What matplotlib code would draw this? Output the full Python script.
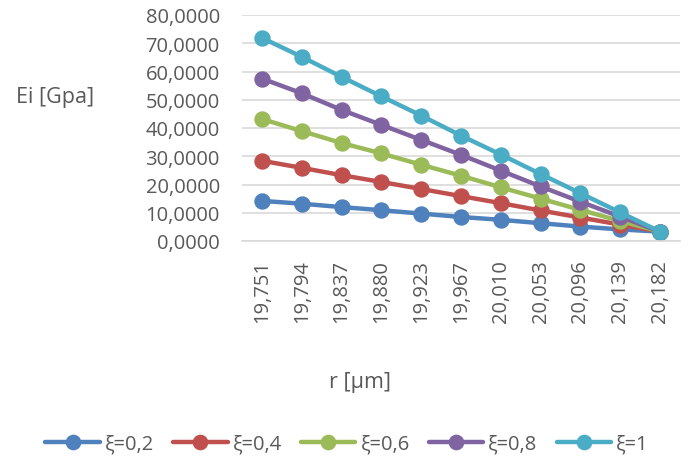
import matplotlib
matplotlib.use("Agg")
import matplotlib.pyplot as plt

plt.rcParams['font.family'] = ['Open Sans', 'DejaVu Sans']

r_labels = ["19,751", "19,794", "19,837", "19,880", "19,923", "19,967",
            "20,010", "20,053", "20,096", "20,139", "20,182"]

e_02 = [14.2, 13.2, 12.0, 10.9, 9.7, 8.5, 7.5, 6.3, 5.1, 4.1, 3.3]
e_04 = [28.4, 25.9, 23.3, 20.9, 18.4, 15.9, 13.4, 10.8, 8.3, 5.8, 3.3]
e_06 = [43.2, 38.9, 34.7, 31.0, 27.0, 23.1, 19.0, 15.0, 11.0, 7.1, 3.3]
e_08 = [57.5, 52.3, 46.4, 41.1, 35.8, 30.5, 24.9, 19.3, 13.9, 8.6, 3.3]
e_10 = [71.9, 65.2, 58.1, 51.2, 44.4, 37.3, 30.6, 23.7, 16.9, 10.1, 3.3]

series = [("ξ=0,2", e_02, "#4F81BD"),
          ("ξ=0,4", e_04, "#C0504D"),
          ("ξ=0,6", e_06, "#9BBB59"),
          ("ξ=0,8", e_08, "#8064A2"),
          ("ξ=1", e_10, "#4BACC6")]

text_color = "#595959"
fs = 14.5

fig = plt.figure(figsize=(6.97, 4.77), dpi=100)
ax = fig.add_axes([242 / 697, 1 - 242 / 477, (680 - 242) / 697, (242 - 16) / 477])

x = list(range(len(r_labels)))
for name, vals, col in series:
    ax.plot(x, vals, color=col, lw=3.2, marker="o", ms=10.8, label=name,
            solid_capstyle="round")

ax.set_xlim(-0.5, len(r_labels) - 0.5)
ax.set_ylim(0, 80)
ax.set_yticks(range(0, 81, 10))
ax.set_yticklabels([f"{v:.4f}".replace(".", ",") for v in range(0, 81, 10)])
ax.set_xticks(x)
ax.set_xticklabels(r_labels, rotation=90)
ax.tick_params(axis="both", length=0, labelsize=fs, colors=text_color)
ax.tick_params(axis="y", pad=16)
ax.tick_params(axis="x", pad=13)

ax.grid(axis="y", color="#D9D9D9", lw=1.2)
ax.set_axisbelow(True)
for s in ["top", "right", "left"]:
    ax.spines[s].set_visible(False)
ax.spines["bottom"].set_color("#D9D9D9")
ax.spines["bottom"].set_linewidth(1.2)

fig.text(55 / 697, 1 - 98 / 477, "Ei [Gpa]", ha="center", va="center",
         fontsize=15.5, color=text_color)
fig.text(360 / 697, 1 - 383 / 477, "r [µm]", ha="center", va="center",
         fontsize=15.5, color=text_color)

fig.legend(loc="center", bbox_to_anchor=(347 / 697, 1 - 445 / 477), ncol=5,
           frameon=False, fontsize=fs, labelcolor=text_color,
           handlelength=2.7, columnspacing=0.95, handletextpad=0.25,
           markerscale=0.95)

fig.savefig("out.png", dpi=100)
